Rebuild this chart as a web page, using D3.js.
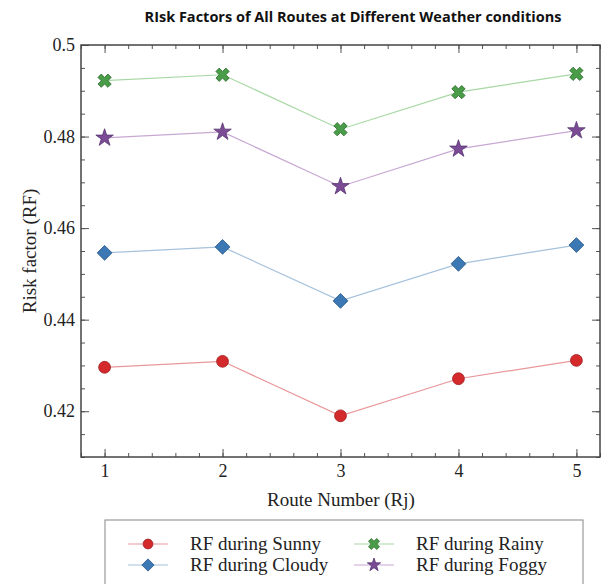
<!DOCTYPE html>
<html lang="en">
<head>
<meta charset="utf-8">
<title>Risk Factors of All Routes</title>
<script src="https://cdn.jsdelivr.net/npm/d3@7"></script>
<style>
  body { margin: 0; background: #fff; }
  .tick text { font-family: "Liberation Serif", "Times New Roman", serif; font-size: 18px; fill: #222; }
  .axis path { display: none; }
  .axis line { stroke: #555; }
</style>
</head>
<body>
<script>
// data
var routes = [1, 2, 3, 4, 5];
var sunny  = [0.4296, 0.4309, 0.4190, 0.4271, 0.4311];
var cloudy = [0.4546, 0.4559, 0.4441, 0.4522, 0.4563];
var rainy  = [0.4922, 0.4935, 0.4816, 0.4897, 0.4937];
var foggy  = [0.4797, 0.4810, 0.4691, 0.4773, 0.4813];
var yTicks = [0.42, 0.44, 0.46, 0.48, 0.5];
var seriesNames = ["RF during Sunny", "RF during Cloudy", "RF during Rainy", "RF during Foggy"];

var series = [
  { name: seriesNames[0], values: sunny,  fill: "#d42a2c", edge: "#a01d20", line: "#e9979a", shape: "circle" },
  { name: seriesNames[1], values: cloudy, fill: "#3b78b4", edge: "#2a5a8a", line: "#a6c2dc", shape: "diamond" },
  { name: seriesNames[2], values: rainy,  fill: "#4a9d48", edge: "#2f6e2e", line: "#a8d8a4", shape: "x" },
  { name: seriesNames[3], values: foggy,  fill: "#7b4b95", edge: "#563370", line: "#c7a8d3", shape: "star" }
];

var W = 604, H = 584;
var pLeft = 81, pRight = 600, pTop = 45, pBottom = 457;

var svg = d3.select("body").append("svg")
  .attr("width", W).attr("height", H);

var x = d3.scaleLinear().domain([0.8, 5.2]).range([pLeft, pRight]);
var y = d3.scaleLinear().domain([0.41, 0.5]).range([pBottom, pTop]);

var xMinor = d3.range(0.8, 5.21, 0.2).map(function (d) { return +d.toFixed(2); });
var yMinor = d3.range(0.41, 0.5001, 0.005).map(function (d) { return +d.toFixed(3); });

// minor ticks, all four sides, pointing inward
svg.append("g").attr("class", "axis").attr("transform", "translate(0," + pBottom + ")")
  .call(d3.axisBottom(x).tickValues(xMinor).tickSize(-4).tickFormat(""));
svg.append("g").attr("class", "axis").attr("transform", "translate(0," + pTop + ")")
  .call(d3.axisTop(x).tickValues(xMinor).tickSize(-4).tickFormat(""));
svg.append("g").attr("class", "axis").attr("transform", "translate(" + pLeft + ",0)")
  .call(d3.axisLeft(y).tickValues(yMinor).tickSize(-4).tickFormat(""));
svg.append("g").attr("class", "axis").attr("transform", "translate(" + pRight + ",0)")
  .call(d3.axisRight(y).tickValues(yMinor).tickSize(-4).tickFormat(""));

// major ticks
svg.append("g").attr("class", "axis").attr("transform", "translate(0," + pBottom + ")")
  .call(d3.axisBottom(x).tickValues(routes).tickSize(-8).tickPadding(7).tickFormat(d3.format("d")));
svg.append("g").attr("class", "axis").attr("transform", "translate(0," + pTop + ")")
  .call(d3.axisTop(x).tickValues(routes).tickSize(-8).tickFormat(""));
svg.append("g").attr("class", "axis").attr("transform", "translate(" + pLeft + ",0)")
  .call(d3.axisLeft(y).tickValues(yTicks).tickSize(-8).tickPadding(6)
    .tickFormat(function (d) { return d === 0.5 ? "0.5" : d3.format(".2f")(d); }));
svg.append("g").attr("class", "axis").attr("transform", "translate(" + pRight + ",0)")
  .call(d3.axisRight(y).tickValues(yTicks).tickSize(-8).tickFormat(""));

// frame
svg.append("rect")
  .attr("x", pLeft).attr("y", pTop)
  .attr("width", pRight - pLeft).attr("height", pBottom - pTop)
  .attr("fill", "none").attr("stroke", "#444").attr("stroke-width", 1.5);

function symbolPath(shape, size) {
  var t = shape === "circle" ? d3.symbolCircle
        : shape === "diamond" ? d3.symbolSquare
        : shape === "x" ? d3.symbolCross : d3.symbolStar;
  return d3.symbol(t, size)();
}
function symbolRotate(shape) {
  return (shape === "diamond" || shape === "x") ? " rotate(45)" : "";
}

var line = d3.line()
  .x(function (d, i) { return x(routes[i]); })
  .y(function (d) { return y(d); });

series.forEach(function (s) {
  svg.append("path")
    .datum(s.values)
    .attr("d", line)
    .attr("fill", "none")
    .attr("stroke", s.line)
    .attr("stroke-width", 1.2);

  svg.selectAll(null)
    .data(s.values)
    .enter()
    .append("path")
    .attr("d", symbolPath(s.shape, s.shape === "star" ? 95 : 110))
    .attr("transform", function (d, i) {
      return "translate(" + x(routes[i]) + "," + y(d) + ")" + symbolRotate(s.shape);
    })
    .attr("fill", s.fill)
    .attr("stroke", s.edge)
    .attr("stroke-width", 0.8);
});

// title and axis labels
svg.append("text")
  .attr("x", 353).attr("y", 22)
  .attr("text-anchor", "middle")
  .attr("font-family", "'Open Sans', sans-serif")
  .attr("font-weight", "bold")
  .attr("font-size", 14.5)
  .attr("fill", "#111")
  .text("RIsk Factors of All Routes at Different Weather conditions");

svg.append("text")
  .attr("x", 341).attr("y", 506)
  .attr("text-anchor", "middle")
  .attr("font-family", "'Liberation Serif', serif")
  .attr("font-size", 19)
  .attr("fill", "#222")
  .text("Route Number (Rj)");

svg.append("text")
  .attr("transform", "translate(36,251) rotate(-90)")
  .attr("text-anchor", "middle")
  .attr("font-family", "'Liberation Serif', serif")
  .attr("font-size", 19)
  .attr("fill", "#222")
  .text("Risk factor (RF)");

// legend
var legend = svg.append("g");
legend.append("rect")
  .attr("x", 105).attr("y", 520)
  .attr("width", 478).attr("height", 70)
  .attr("fill", "#fff").attr("stroke", "#999").attr("stroke-width", 1.2);

var legendPos = [
  { lx: 128, ly: 544 }, { lx: 128, ly: 565 },
  { lx: 354, ly: 544 }, { lx: 354, ly: 565 }
];

series.forEach(function (s, i) {
  var p = legendPos[i];
  var g = legend.append("g").attr("transform", "translate(" + p.lx + "," + p.ly + ")");
  g.append("line").attr("x1", 0).attr("x2", 40).attr("y1", 0).attr("y2", 0)
    .attr("stroke", s.line).attr("stroke-width", 1.2);
  g.append("path")
    .attr("d", symbolPath(s.shape, s.shape === "star" ? 55 : 75))
    .attr("transform", "translate(20,0)" + symbolRotate(s.shape))
    .attr("fill", s.fill).attr("stroke", s.edge).attr("stroke-width", 0.8);
  g.append("text")
    .attr("x", 62).attr("y", 6)
    .attr("font-family", "'Liberation Serif', serif")
    .attr("font-size", 19)
    .attr("fill", "#222")
    .text(s.name);
});
</script>
</body>
</html>
